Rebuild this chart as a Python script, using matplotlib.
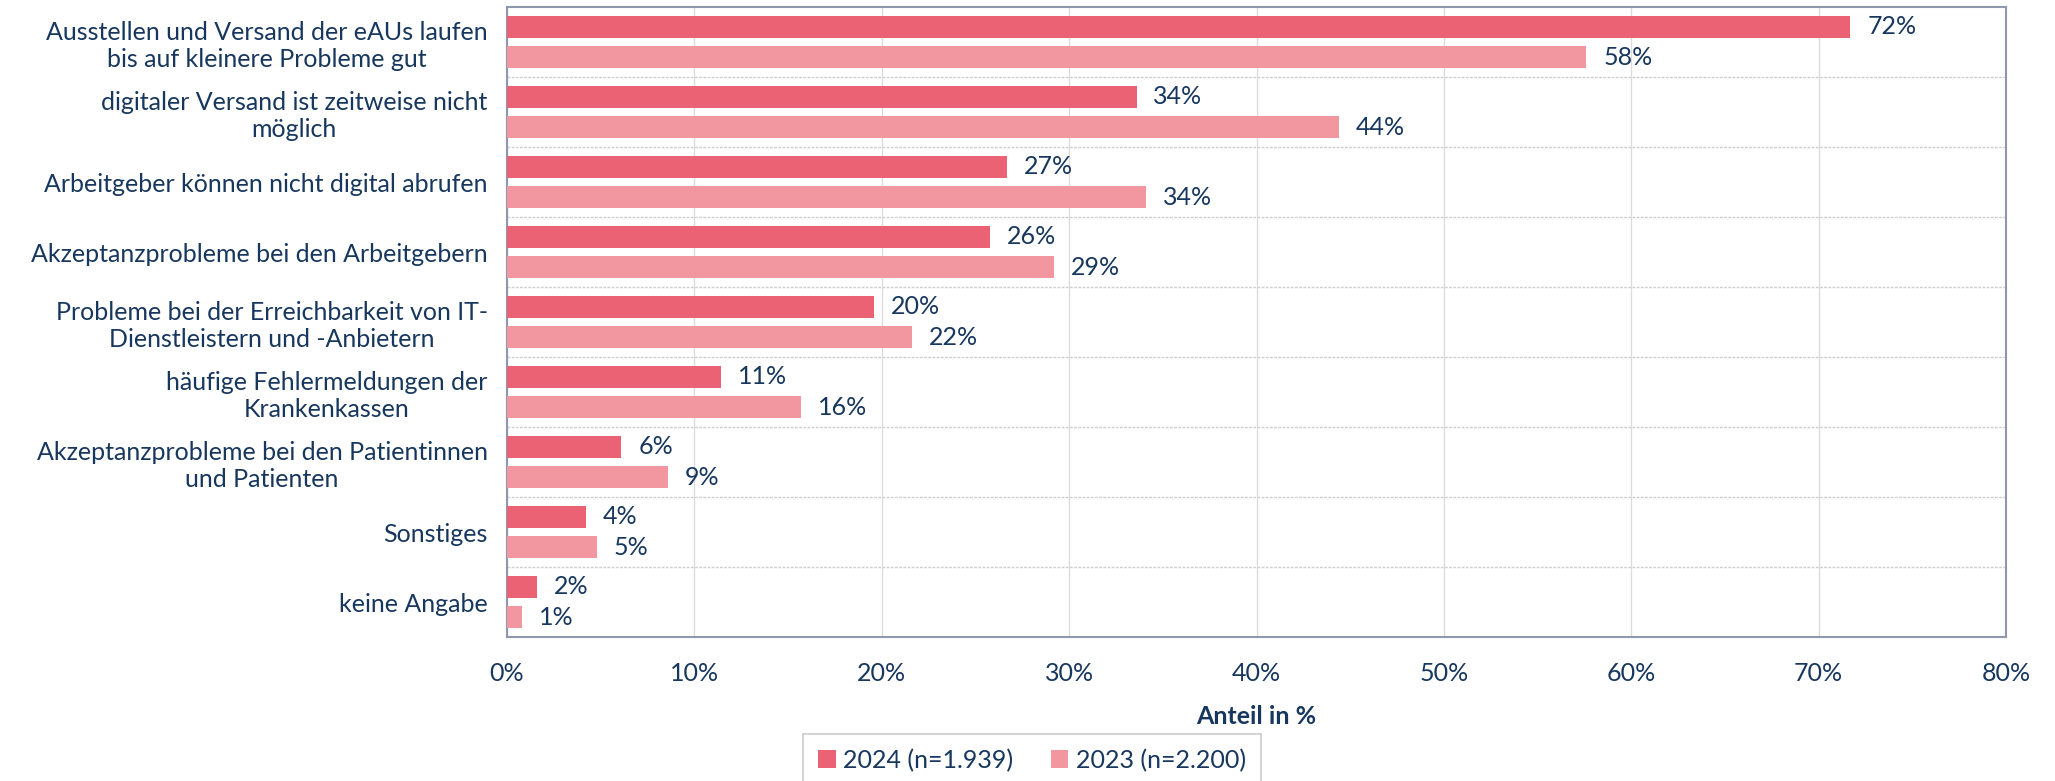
import numpy as np
import matplotlib.pyplot as plt

plt.rcParams['font.family'] = ['Lato', 'DejaVu Sans']

# data
categories = [
    "Ausstellen und Versand der eAUs laufen\nbis auf kleinere Probleme gut",
    "digitaler Versand ist zeitweise nicht\nmöglich",
    "Arbeitgeber können nicht digital abrufen",
    "Akzeptanzprobleme bei den Arbeitgebern",
    "Probleme bei der Erreichbarkeit von IT-\nDienstleistern und -Anbietern",
    "häufige Fehlermeldungen der\nKrankenkassen",
    "Akzeptanzprobleme bei den Patientinnen\nund Patienten",
    "Sonstiges",
    "keine Angabe",
]
vals_2024 = [71.7, 33.6, 26.7, 25.8, 19.6, 11.4, 6.1, 4.2, 1.6]
vals_2023 = [57.6, 44.4, 34.1, 29.2, 21.6, 15.7, 8.6, 4.8, 0.8]
series_names = ["2024 (n=1.939)", "2023 (n=2.200)"]
xticks = [0, 10, 20, 30, 40, 50, 60, 70, 80]

c24 = '#EA6273'
c23 = '#F297A0'
txt = '#17375E'
fs = 18

fig = plt.figure(figsize=(20.55, 7.81), dpi=100)
ax = fig.add_axes([507/2055, 1 - 637/781, (2006-507)/2055, (637-7)/781])

y = np.arange(len(categories))
h = 0.31
off = 0.215
b1 = ax.barh(y - off, vals_2024, height=h, color=c24, label=series_names[0], zorder=3)
b2 = ax.barh(y + off, vals_2023, height=h, color=c23, label=series_names[1], zorder=3)

for bars, vals in [(b1, vals_2024), (b2, vals_2023)]:
    for rect, v in zip(bars, vals):
        ax.text(v + 0.9, rect.get_y() + rect.get_height()/2, f"{round(v)}%",
                va='center', ha='left', fontsize=fs, color=txt)

ax.set_xlim(0, 80)
ax.set_ylim(len(categories) - 0.5, -0.5)
ax.set_xticks(xticks)
ax.set_xticklabels([f"{t}%" for t in xticks])
ax.set_yticks(y)
ax.set_yticklabels(categories, multialignment='center')
ax.tick_params(axis='both', length=0, labelsize=fs, labelcolor=txt)
ax.tick_params(axis='x', pad=18)
ax.tick_params(axis='y', pad=14)

# grid
ax.xaxis.grid(True, color='#DCDCDC', linewidth=1, zorder=0)
for b in np.arange(0.5, len(categories) - 0.5, 1):
    ax.axhline(b, color='#CFCFCF', linewidth=1, linestyle=(0, (2, 1)), zorder=1)

for s in ax.spines.values():
    s.set_color('#8E97AC')
    s.set_linewidth(1.5)

fig.text(1256/2055, 1 - 717/781, "Anteil in %", ha='center', va='center',
         fontsize=fs, fontweight='bold', color=txt)

leg = fig.legend(loc='upper center', bbox_to_anchor=(1032/2055, 1 - 721/781), ncol=2,
                 fontsize=fs, frameon=True, fancybox=False, handlelength=0.7,
                 handleheight=0.7, handletextpad=0.3, columnspacing=1.5,
                 borderpad=0.6)
leg.get_frame().set_edgecolor('#BFBFBF')
leg.get_frame().set_linewidth(1.2)
for t in leg.get_texts():
    t.set_color(txt)

fig.savefig('out.png', dpi=100)
